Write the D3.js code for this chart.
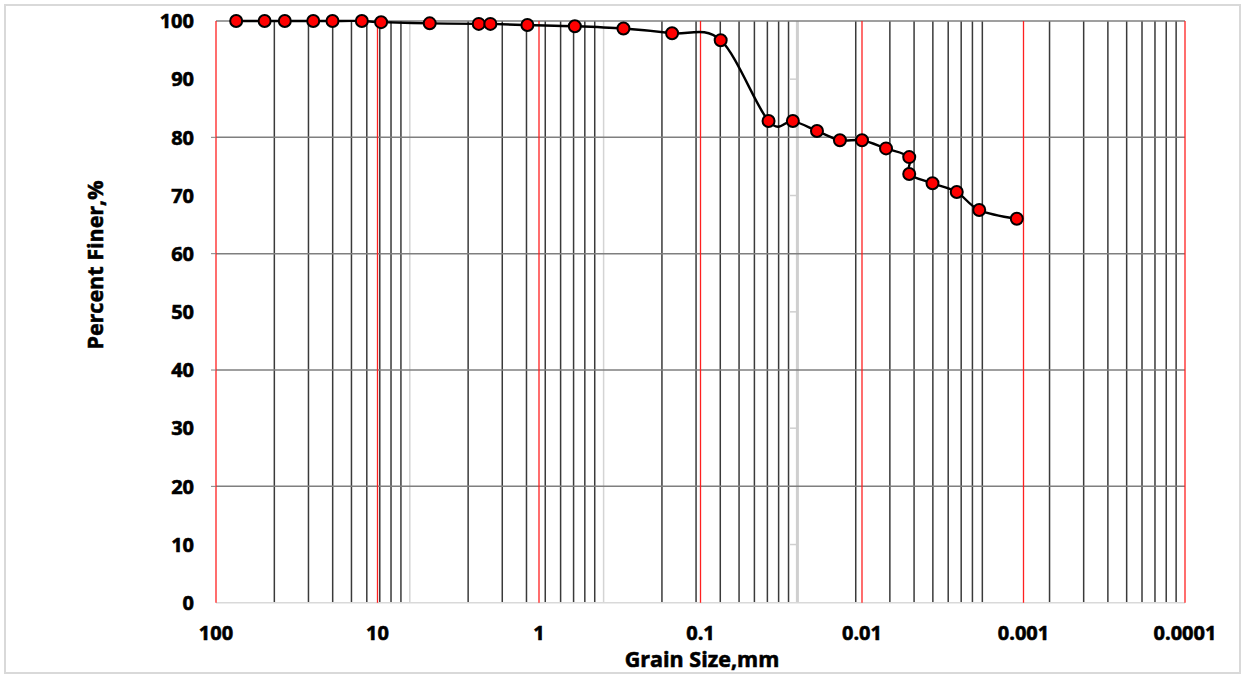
<!DOCTYPE html>
<html>
<head>
<meta charset="utf-8">
<script src="https://cdn.jsdelivr.net/npm/d3@7"></script>
<style>
  html, body { margin: 0; padding: 0; background: #fff; }
  svg { display: block; }
  text { font-family: "Open Sans", "Liberation Sans", sans-serif; font-weight: 700; fill: #000;
         stroke: #000; stroke-width: 0.6px; }
</style>
</head>
<body>
<svg id="chart" width="1246" height="677"></svg>
<script>
// Particle-size distribution (sieve + hydrometer)
const grainSize = [75, 50, 37.5, 25, 19, 12.5, 9.5, 4.75, 2.36, 2.0, 1.18, 0.6, 0.3, 0.15, 0.075,
                   0.0379, 0.0268, 0.0190, 0.0137, 0.0100, 0.0071, 0.0051, 0.0051, 0.00366, 0.00259, 0.00188, 0.00110];
const percentFiner = [100, 100, 100, 100, 100, 100, 99.8, 99.6, 99.5, 99.5, 99.3, 99.1, 98.7, 97.9, 96.7,
                      82.8, 82.8, 81.1, 79.5, 79.5, 78.1, 76.6, 73.7, 72.1, 70.6, 67.5, 66.0];

const xTickValues = [100, 10, 1, 0.1, 0.01, 0.001, 0.0001];
const xTickLabels = ["100", "10", "1", "0.1", "0.01", "0.001", "0.0001"];
const yTickValues = [0, 10, 20, 30, 40, 50, 60, 70, 80, 90, 100];
const yGridValues = [20, 40, 60, 80, 100];
const auxTickValues = [10, 30, 50, 70, 90];

const xTitle = "Grain Size,mm";
const yTitle = "Percent Finer,%";

const svg = d3.select("#chart");
const plotLeft = 216, plotRight = 1185, plotTop = 21, plotBottom = 602.7;

// outer frame
svg.append("rect")
  .attr("x", 5).attr("y", 5).attr("width", 1235).attr("height", 668)
  .attr("fill", "#fff").attr("stroke", "#d9d9d9").attr("stroke-width", 2);

const x = d3.scaleLog().domain([100, 0.0001]).range([plotLeft, plotRight]);
const y = d3.scaleLinear().domain([0, 100]).range([plotBottom, plotTop]);
// secondary log grid (five decades, increasing to the right)
const x2 = d3.scaleLog().domain([1, 1e5]).range([plotLeft, plotRight]);

const grid = svg.append("g");

// secondary minor lines (2..9 per decade)
const minor = [];
for (let e = 0; e < 5; e++) for (let k = 2; k <= 9; k++) minor.push(k * Math.pow(10, e));
grid.selectAll("line.minor").data(minor).join("line")
  .attr("class", "minor")
  .attr("x1", d => x2(d)).attr("x2", d => x2(d))
  .attr("y1", plotTop).attr("y2", plotBottom)
  .attr("stroke", "#3a3a3a").attr("stroke-width", 1.5);

// secondary decade lines
grid.selectAll("line.dec2").data([10, 100]).join("line")
  .attr("class", "dec2")
  .attr("x1", d => x2(d)).attr("x2", d => x2(d))
  .attr("y1", plotTop).attr("y2", plotBottom)
  .attr("stroke", "#d4d4d4").attr("stroke-width", 1.5);

// auxiliary vertical axis with ticks
const auxX = x2(1000);
grid.append("line")
  .attr("x1", auxX).attr("x2", auxX).attr("y1", plotTop).attr("y2", plotBottom)
  .attr("stroke", "#cfcfcf").attr("stroke-width", 3);
grid.selectAll("line.auxtick").data(auxTickValues).join("line")
  .attr("class", "auxtick")
  .attr("x1", auxX - 8).attr("x2", auxX)
  .attr("y1", d => y(d)).attr("y2", d => y(d))
  .attr("stroke", "#cfcfcf").attr("stroke-width", 1.5);

// horizontal grid
grid.selectAll("line.hgrid").data(yGridValues).join("line")
  .attr("class", "hgrid")
  .attr("x1", plotLeft).attr("x2", plotRight)
  .attr("y1", d => y(d)).attr("y2", d => y(d))
  .attr("stroke", "#7f7f7f").attr("stroke-width", 1.5);
grid.append("line")
  .attr("x1", plotLeft).attr("x2", plotRight).attr("y1", y(0)).attr("y2", y(0))
  .attr("stroke", "#d9d9d9").attr("stroke-width", 1.5);

// primary decade lines (red)
grid.selectAll("line.major").data(xTickValues).join("line")
  .attr("class", "major")
  .attr("x1", d => x(d)).attr("x2", d => x(d))
  .attr("y1", plotTop).attr("y2", plotBottom)
  .attr("stroke", "#ff2020").attr("stroke-width", 1.3);

// y-axis tick marks
grid.selectAll("line.ytick").data(yGridValues.slice(0, 4)).join("line")
  .attr("class", "ytick")
  .attr("x1", plotLeft - 5).attr("x2", plotLeft)
  .attr("y1", d => y(d)).attr("y2", d => y(d))
  .attr("stroke", "#7f7f7f").attr("stroke-width", 1);

// tick labels
svg.append("g").selectAll("text").data(yTickValues).join("text")
  .attr("x", 194).attr("y", d => y(d))
  .attr("dy", "0.36em")
  .attr("text-anchor", "end")
  .attr("font-size", 20)
  .text(d => d);

svg.append("g").selectAll("text").data(xTickValues).join("text")
  .attr("x", d => x(d)).attr("y", 640)
  .attr("text-anchor", "middle")
  .attr("font-size", 20)
  .text((d, i) => xTickLabels[i]);

// axis titles
svg.append("text")
  .attr("x", 702).attr("y", 667)
  .attr("text-anchor", "middle")
  .attr("font-size", 21.5)
  .text(xTitle);
svg.append("text")
  .attr("transform", "translate(103,265) rotate(-90)")
  .attr("text-anchor", "middle")
  .attr("font-size", 21.5)
  .text(yTitle);

// gradation curve
const pts = grainSize.map((g, i) => [g, percentFiner[i]]);
const line = d3.line()
  .x(d => x(d[0])).y(d => y(d[1]))
  .curve(d3.curveCatmullRom.alpha(0));
svg.append("path")
  .attr("d", line(pts))
  .attr("fill", "none")
  .attr("stroke", "#000").attr("stroke-width", 2.4);

svg.append("g").selectAll("circle").data(pts).join("circle")
  .attr("cx", d => x(d[0])).attr("cy", d => y(d[1]))
  .attr("r", 6)
  .attr("fill", "#ff0000")
  .attr("stroke", "#000").attr("stroke-width", 2);
</script>
</body>
</html>
